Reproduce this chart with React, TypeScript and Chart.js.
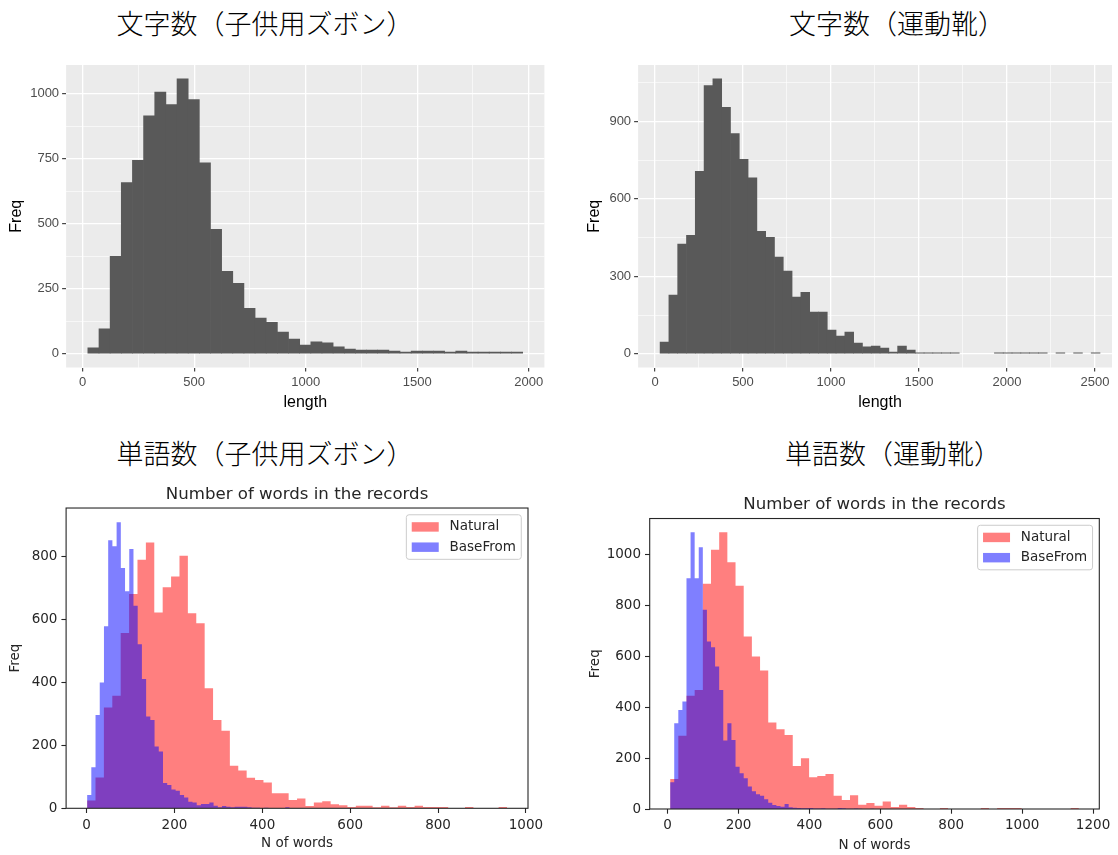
import React, { useEffect, useRef } from "react";
import { Chart, registerables } from "chart.js";

Chart.register(...registerables);

// ================= DATA =================
// Top-left: 文字数（子供用ズボン） — histogram of text length (binwidth 50)
const TL_BIN_START = 23;
const TL_BIN_WIDTH = 50;
const TL_COUNTS = [
  23, 96, 374, 658, 743, 914, 1006, 958, 1057, 977, 734, 478, 317, 271, 175, 137, 121, 83, 56, 33,
  46, 42, 27, 18, 14, 14, 14, 10, 6, 10, 10, 10, 6, 10, 6, 6, 6, 6, 6,
];
const TL_X_MAJOR = [0, 500, 1000, 1500, 2000];
const TL_X_MINOR = [250, 750, 1250, 1750];
const TL_Y_MAJOR = [0, 250, 500, 750, 1000];
const TL_Y_MINOR = [125, 375, 625, 875];

// Top-right: 文字数（運動靴）
const TR_BIN_START = 29;
const TR_BIN_WIDTH = 50;
const TR_COUNTS = [
  45, 227, 425, 459, 706, 1039, 1065, 954, 853, 753, 681, 474, 451, 374, 320, 219, 238, 161, 161, 92,
  68, 84, 41, 27, 30, 22, 6, 30, 14, 4, 4, 4, 4, 4, 0, 0, 0, 0, 4, 4,
  4, 4, 4, 4, 0, 4, 0, 4, 0, 4,
];
const TR_X_MAJOR = [0, 500, 1000, 1500, 2000, 2500];
const TR_X_MINOR = [250, 750, 1250, 1750, 2250];
const TR_Y_MAJOR = [0, 300, 600, 900];
const TR_Y_MINOR = [150, 450, 750, 1050];

// Bottom-left: 単語数（子供用ズボン）
const BL_NATURAL_START = 1;
const BL_NATURAL_WIDTH = 19.12;
const BL_NATURAL = [
  25, 98, 320, 357, 556, 680, 788, 843, 621, 701, 735, 801, 619, 587, 381, 280, 246, 135, 120, 97,
  90, 82, 48, 48, 26, 31, 7, 18, 22, 13, 10, 4, 8, 8, 3, 8, 3, 8, 4, 8,
  4, 4, 4, 0, 0, 4, 0, 0, 0, 4,
];
const BL_BASE_START = 1;
const BL_BASE_WIDTH = 9.6;
const BL_BASE = [
  42, 130, 296, 399, 577, 850, 831, 907, 762, 688, 822, 642, 520, 410, 291, 280, 196, 180, 80, 74,
  60, 56, 42, 34, 21, 18, 10, 14, 14, 18, 8, 3, 7, 5, 3, 5, 5, 5, 3, 2,
  2, 1, 2, 1, 1, 1, 0, 3, 1, 0,
];
const BL_X_TICKS = [0, 200, 400, 600, 800, 1000];
const BL_Y_TICKS = [0, 200, 400, 600, 800];

// Bottom-right: 単語数（運動靴）
const BR_NATURAL_START = 7;
const BR_NATURAL_WIDTH = 23.06;
const BR_NATURAL = [
  118, 288, 445, 468, 885, 1019, 1087, 970, 877, 678, 599, 544, 340, 313, 291, 169, 199, 125, 130, 138,
  52, 35, 54, 17, 24, 13, 29, 8, 17, 8, 4, 0, 0, 4, 0, 0, 0, 0, 4, 0,
  4, 4, 4, 0, 0, 0, 0, 0, 0, 4,
];
const BR_BASE_START = 7;
const BR_BASE_WIDTH = 11.53;
const BR_BASE = [
  105, 337, 389, 422, 907, 1087, 907, 1028, 783, 658, 636, 560, 468, 269, 337, 271, 166, 140, 121, 88,
  70, 58, 52, 38, 25, 16, 12, 9, 20, 7, 5, 4, 3, 3, 4, 2, 2, 3, 1, 1,
  1, 4, 3, 1, 1, 2, 1, 0, 0, 1,
];
const BR_X_TICKS = [0, 200, 400, 600, 800, 1000, 1200];
const BR_Y_TICKS = [0, 200, 400, 600, 800, 1000];

const SERIES_LABELS = ["Natural", "BaseFrom"];
const PANEL_TITLES = ["文字数（子供用ズボン）", "文字数（運動靴）", "単語数（子供用ズボン）", "単語数（運動靴）"];
const MPL_TITLE = "Number of words in the records";

// ================= STYLE =================
const GG_FONT = "'Liberation Sans', Arial, sans-serif";
const MPL_FONT = "'DejaVu Sans', sans-serif";
const INK = "#262626";

// bar centres for the ggplot histograms
function binPoints(start: number, width: number, counts: number[]) {
  return counts.map((c, i) => ({ x: start + width * (i + 0.5), y: c === 0 ? null : c }));
}
// left bin edges (plus closing right edge) for the step-filled matplotlib histograms
function stepPoints(start: number, width: number, counts: number[]) {
  const pts = counts.map((c, i) => ({ x: start + width * i, y: c }));
  pts.push({ x: start + width * counts.length, y: 0 });
  return pts;
}

const panelBg = {
  id: "panelBg",
  beforeDraw(chart: any, _a: any, opts: any) {
    if (!opts || !opts.color) return;
    const { ctx, chartArea: a } = chart;
    ctx.save();
    ctx.fillStyle = opts.color;
    ctx.fillRect(a.left, a.top, a.right - a.left, a.bottom - a.top);
    ctx.restore();
  },
};

const mplFrame = {
  id: "mplFrame",
  afterDatasetsDraw(chart: any, _a: any, opts: any) {
    const { ctx, chartArea: a } = chart;
    ctx.save();
    ctx.strokeStyle = (opts && opts.color) || INK;
    ctx.lineWidth = 1.1;
    ctx.strokeRect(a.left, a.top, a.right - a.left, a.bottom - a.top);
    ctx.restore();
  },
};

const mplLegend = {
  id: "mplLegend",
  afterDraw(chart: any, _a: any, opts: any) {
    const { ctx, chartArea: a } = chart;
    const fs = (opts && opts.fontSize) || 13.5;
    const items = chart.data.datasets.map((d: any) => ({ label: d.label, color: d.backgroundColor }));
    ctx.save();
    ctx.font = `${fs}px ${MPL_FONT}`;
    const textW = Math.max(...items.map((it: any) => ctx.measureText(it.label).width));
    const w = fs * (0.4 + 2 + 0.8 + 0.4) + textW;
    const h = fs * (items.length + 0.5 * (items.length - 1) + 0.8);
    const x = a.right - 0.5 * fs - w;
    const y = a.top + 0.5 * fs;
    ctx.beginPath();
    ctx.roundRect(x, y, w, h, 0.2 * fs);
    ctx.fillStyle = "rgba(255,255,255,0.8)";
    ctx.fill();
    ctx.strokeStyle = "#CCCCCC";
    ctx.lineWidth = 1;
    ctx.stroke();
    items.forEach((it: any, k: number) => {
      const cy = y + 0.4 * fs + 0.5 * fs + k * 1.5 * fs;
      ctx.fillStyle = it.color;
      ctx.fillRect(x + 0.4 * fs, cy - 0.35 * fs, 2 * fs, 0.7 * fs);
      ctx.fillStyle = INK;
      ctx.textBaseline = "middle";
      ctx.textAlign = "left";
      ctx.fillText(it.label, x + 3.2 * fs, cy);
    });
    ctx.restore();
  },
};

type GGGeo = { padTop: number; padRight: number; yAxisW: number; xAxisH: number; xTitlePad: number; yTitlePad: number };

function makeGG(canvas: HTMLCanvasElement, spec: any) {
  const { start, width, counts, xMajor, xMinor, yMajor, yMinor, geo } = spec as {
    start: number; width: number; counts: number[]; xMajor: number[]; xMinor: number[]; yMajor: number[]; yMinor: number[]; geo: GGGeo;
  };
  const lo = start;
  const hi = start + width * counts.length;
  const span = hi - lo;
  const top = Math.max(...counts);
  const xTicks = [...xMajor, ...xMinor].sort((p, q) => p - q);
  const yTicks = [...yMajor, ...yMinor].sort((p, q) => p - q);
  const majX = (v: any) => xMajor.includes(v);
  const majY = (v: any) => yMajor.includes(v);
  const tickFont = { family: GG_FONT, size: 13 };
  const titleFont = { family: GG_FONT, size: 16 };
  return new Chart(canvas, {
    type: "bar",
    data: {
      datasets: [
        {
          data: binPoints(start, width, counts) as any,
          backgroundColor: "#595959",
          borderWidth: 0,
          barPercentage: 1,
          categoryPercentage: 1,
          inflateAmount: 0.33,
        } as any,
      ],
    },
    options: {
      animation: false,
      responsive: false,
      events: [],
      layout: { padding: { left: 0, top: geo.padTop, right: geo.padRight, bottom: 0 } },
      plugins: { legend: { display: false }, tooltip: { enabled: false }, panelBg: { color: "#EBEBEB" } } as any,
      scales: {
        x: {
          type: "linear",
          min: lo - 0.05 * span,
          max: hi + 0.05 * span,
          offset: false,
          afterBuildTicks: (s: any) => { s.ticks = xTicks.map((v) => ({ value: v })); },
          afterFit: (s: any) => { s.height = geo.xAxisH; },
          border: { display: false },
          grid: {
            offset: false,
            color: "#FFFFFF",
            lineWidth: (c: any) => (majX(c.tick && c.tick.value) ? 1.3 : 0.6),
            tickColor: (c: any) => (majX(c.tick && c.tick.value) ? "#333333" : "rgba(0,0,0,0)"),
            tickLength: 4,
            tickWidth: 1.1,
          },
          ticks: {
            autoSkip: false, maxRotation: 0, minRotation: 0, padding: 3, color: "#4D4D4D", font: tickFont,
            callback: (v: any) => (majX(v) ? String(v) : ""),
          },
          title: { display: true, text: spec.xTitle, color: "#000000", font: titleFont, padding: { top: 0, bottom: geo.xTitlePad } },
        } as any,
        y: {
          type: "linear",
          min: -0.05 * top,
          max: 1.05 * top,
          afterBuildTicks: (s: any) => { s.ticks = yTicks.map((v) => ({ value: v })); },
          afterFit: (s: any) => { s.width = geo.yAxisW; },
          border: { display: false },
          grid: {
            color: "#FFFFFF",
            lineWidth: (c: any) => (majY(c.tick && c.tick.value) ? 1.3 : 0.6),
            tickColor: (c: any) => (majY(c.tick && c.tick.value) ? "#333333" : "rgba(0,0,0,0)"),
            tickLength: 4,
            tickWidth: 1.1,
          },
          ticks: {
            autoSkip: false, padding: 3, color: "#4D4D4D", font: tickFont,
            callback: (v: any) => (majY(v) ? String(v) : ""),
          },
          title: { display: true, text: spec.yTitle, color: "#000000", font: titleFont, padding: { top: geo.yTitlePad, bottom: 0 } },
        } as any,
      },
    },
    plugins: [panelBg as any],
  });
}

type MplGeo = {
  padRight: number; yAxisW: number; xAxisH: number; xTitlePad: number; yTitlePad: number; titlePadTop: number; titlePadBottom: number;
};

function makeMpl(canvas: HTMLCanvasElement, spec: any) {
  const { natural, base, xTicks, yTicks, geo } = spec as {
    natural: { start: number; width: number; counts: number[] };
    base: { start: number; width: number; counts: number[] };
    xTicks: number[]; yTicks: number[]; geo: MplGeo;
  };
  const lo = Math.min(natural.start, base.start);
  const hi = Math.max(natural.start + natural.width * natural.counts.length, base.start + base.width * base.counts.length);
  const span = hi - lo;
  const ymax = 1.05 * Math.max(...natural.counts, ...base.counts);
  const font = { family: MPL_FONT, size: 13.5 };
  const tickGrid = { drawOnChartArea: false, drawTicks: true, tickLength: 4.7, tickWidth: 1.1, tickColor: INK, color: INK, offset: false };
  const histStyle = {
    stepped: "before",
    fill: "origin",
    borderWidth: 0,
    borderColor: "rgba(0,0,0,0)",
    pointRadius: 0,
    pointHoverRadius: 0,
    tension: 0,
  };
  return new Chart(canvas, {
    type: "line",
    data: {
      datasets: [
        {
          ...histStyle,
          label: SERIES_LABELS[0],
          data: stepPoints(natural.start, natural.width, natural.counts) as any,
          backgroundColor: "rgba(255,0,0,0.5)",
          order: 1,
        } as any,
        {
          ...histStyle,
          label: SERIES_LABELS[1],
          data: stepPoints(base.start, base.width, base.counts) as any,
          backgroundColor: "rgba(0,0,255,0.5)",
          order: 0,
        } as any,
      ],
    },
    options: {
      animation: false,
      responsive: false,
      events: [],
      layout: { padding: { left: 0, top: 0, right: geo.padRight, bottom: 0 } },
      plugins: {
        legend: { display: false },
        tooltip: { enabled: false },
        title: {
          display: true,
          fullSize: false,
          text: MPL_TITLE,
          color: INK,
          font: { family: MPL_FONT, size: 16.6, weight: "normal" },
          padding: { top: geo.titlePadTop, bottom: geo.titlePadBottom },
        },
        mplLegend: { fontSize: 13.5 },
        mplFrame: { color: INK },
      } as any,
      scales: {
        x: {
          type: "linear",
          position: "bottom",
          min: lo - 0.05 * span,
          max: hi + 0.05 * span,
          offset: false,
          afterBuildTicks: (s: any) => { s.ticks = xTicks.map((v) => ({ value: v })); },
          afterFit: (s: any) => { s.height = geo.xAxisH; },
          border: { display: false },
          grid: tickGrid,
          ticks: { autoSkip: false, maxRotation: 0, minRotation: 0, padding: 4, color: INK, font, callback: (v: any) => String(v) },
          title: { display: true, text: "N of words", color: INK, font, padding: { top: 0, bottom: geo.xTitlePad } },
        } as any,
        y: {
          type: "linear",
          min: 0,
          max: ymax,
          afterBuildTicks: (s: any) => { s.ticks = yTicks.map((v) => ({ value: v })); },
          afterFit: (s: any) => { s.width = geo.yAxisW; },
          border: { display: false },
          grid: tickGrid,
          ticks: { autoSkip: false, padding: 4, color: INK, font, callback: (v: any) => String(v) },
          title: { display: true, text: "Freq", color: INK, font, padding: { top: geo.yTitlePad, bottom: 0 } },
        } as any,
      },
    },
    plugins: [mplFrame as any, mplLegend as any],
  });
}

function ChartBox(props: { left: number; top: number; width: number; height: number; clipW?: number; make: (c: HTMLCanvasElement) => Chart }) {
  const ref = useRef<HTMLCanvasElement>(null);
  useEffect(() => {
    const chart = props.make(ref.current as HTMLCanvasElement);
    return () => chart.destroy();
  }, []);
  return (
    <div
      style={{
        position: "absolute",
        left: props.left,
        top: props.top,
        width: props.clipW || props.width,
        height: props.height,
        overflow: "hidden",
      }}
    >
      <canvas ref={ref} width={props.width} height={props.height} style={{ width: props.width, height: props.height }} />
    </div>
  );
}

function Heading(props: { text: string; cx: number; cy: number }) {
  return (
    <div
      style={{
        position: "absolute",
        left: props.cx,
        top: props.cy,
        transform: "translate(-50%, -50%)",
        whiteSpace: "nowrap",
        fontFamily: "'Noto Sans CJK JP', sans-serif",
        fontWeight: 300,
        fontSize: 27,
        lineHeight: 1,
        color: "#000",
      }}
    >
      {props.text}
    </div>
  );
}

export default function App() {
  return (
    <div style={{ position: "absolute", left: 0, top: 0, width: 1118, height: 855, overflow: "hidden", background: "#FFFFFF" }}>
      <Heading text={PANEL_TITLES[0]} cx={265} cy={22} />
      <Heading text={PANEL_TITLES[1]} cx={897} cy={22} />
      <Heading text={PANEL_TITLES[2]} cx={265} cy={452} />
      <Heading text={PANEL_TITLES[3]} cx={893} cy={452} />
      <ChartBox
        left={0}
        top={50}
        width={560}
        height={370}
        make={(c) =>
          makeGG(c, {
            start: TL_BIN_START, width: TL_BIN_WIDTH, counts: TL_COUNTS,
            xMajor: TL_X_MAJOR, xMinor: TL_X_MINOR, yMajor: TL_Y_MAJOR, yMinor: TL_Y_MINOR,
            xTitle: "length", yTitle: "Freq",
            geo: { padTop: 15, padRight: 15.6, yAxisW: 66.1, xAxisH: 52.5, xTitlePad: 7.4, yTitlePad: 7.4 },
          })
        }
      />
      <ChartBox
        left={570}
        top={50}
        width={560}
        height={370}
        clipW={542}
        make={(c) =>
          makeGG(c, {
            start: TR_BIN_START, width: TR_BIN_WIDTH, counts: TR_COUNTS,
            xMajor: TR_X_MAJOR, xMinor: TR_X_MINOR, yMajor: TR_Y_MAJOR, yMinor: TR_Y_MINOR,
            xTitle: "length", yTitle: "Freq",
            geo: { padTop: 15, padRight: 8, yAxisW: 68.1, xAxisH: 52.5, xTitlePad: 7.4, yTitlePad: 15.4 },
          })
        }
      />
      <ChartBox
        left={0}
        top={470}
        width={560}
        height={385}
        make={(c) =>
          makeMpl(c, {
            natural: { start: BL_NATURAL_START, width: BL_NATURAL_WIDTH, counts: BL_NATURAL },
            base: { start: BL_BASE_START, width: BL_BASE_WIDTH, counts: BL_BASE },
            xTicks: BL_X_TICKS, yTicks: BL_Y_TICKS,
            geo: { padRight: 32, yAxisW: 66.1, xAxisH: 46.7, xTitlePad: 3.9, yTitlePad: 6.9, titlePadTop: 15.1, titlePadBottom: 3.0 },
          })
        }
      />
      <ChartBox
        left={570}
        top={480}
        width={548}
        height={375}
        make={(c) =>
          makeMpl(c, {
            natural: { start: BR_NATURAL_START, width: BR_NATURAL_WIDTH, counts: BR_NATURAL },
            base: { start: BR_BASE_START, width: BR_BASE_WIDTH, counts: BR_BASE },
            xTicks: BR_X_TICKS, yTicks: BR_Y_TICKS,
            geo: { padRight: 18.7, yAxisW: 79.7, xAxisH: 46, xTitlePad: 1.9, yTitlePad: 16.9, titlePadTop: 15.1, titlePadBottom: 3.5 },
          })
        }
      />
    </div>
  );
}
